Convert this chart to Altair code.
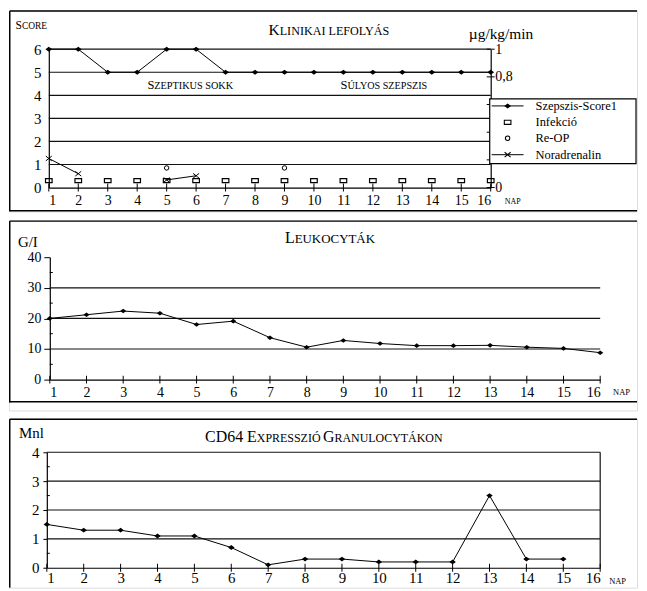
import altair as alt
import pandas as pd

FONT = "Liberation Serif"

# ---------------- data ----------------
days = [1, 2, 3, 4, 5, 6, 7, 8, 9, 10, 11, 12, 13, 14, 15, 16]
score = [6, 6, 5, 5, 6, 6, 5, 5, 5, 5, 5, 5, 5, 5, 5, 5]
infekcio = [0.3, 0.3, 0.3, 0.3, 0.3, 0.3, 0.3, 0.3, 0.3, 0.3, 0.3, 0.3, 0.3, 0.3, 0.3, 0.3]
reop_days = [5, 9]
reop = [0.85, 0.85]
nora_days = [1, 2, 5, 6]
nora = [0.21, 0.10, 0.055, 0.085]
nora_run = ["a", "a", "b", "b"]
score_grid = [1, 2, 3, 4, 5, 6]
score_ticks = [0, 1, 2, 3, 4, 5, 6]
nora_ticks = [0, 0.2, 0.4, 0.6, 0.8, 1]
legend_labels = ["Szepszis-Score1", "Infekció", "Re-OP", "Noradrenalin"]

leuko = [20, 21.2, 22.4, 21.7, 18, 19.1, 13.7, 10.6, 12.8, 11.8, 11.1, 11.1, 11.2, 10.6, 10.2, 8.8]
leuko_grid = [10, 20, 30]
leuko_ticks = [0, 10, 20, 30, 40]
leuko_minor = [5, 15, 25, 35]

cd64_days = [1, 2, 3, 4, 5, 6, 7, 8, 9, 10, 11, 12, 13, 14, 15]
cd64 = [1.5, 1.3, 1.3, 1.1, 1.1, 0.7, 0.1, 0.3, 0.3, 0.2, 0.2, 0.2, 2.5, 0.3, 0.3]
cd64_grid = [1, 2, 3, 4]
cd64_ticks = [0, 1, 2, 3, 4]
cd64_minor = [0.5, 1.5, 2.5, 3.5]

# ---------------- styles ----------------
W = 631
H1, H2, H3 = 202, 191, 170
F2 = 183  # framed part of panel 2
DIAMOND = "M0,-0.75L1,0L0,0.75L-1,0Z"
RECT = "M-1,-0.62L1,-0.62L1,0.62L-1,0.62Z"
XMARK = "M-1,-0.8L1,0.8M-1,0.8L1,-0.8"
GRID = "#111111"
ONE = alt.Data(values=[{}])


def txt(s, x, y, size, align="left", baseline="alphabetic"):
    return alt.Chart(ONE).mark_text(
        text=s, font=FONT, fontSize=size, align=align, baseline=baseline, color="black"
    ).encode(x=alt.value(x), y=alt.value(y))


def hline(y, x0, x1, w=1.5):
    return alt.Chart(ONE).mark_rule(color="black", strokeWidth=w).encode(
        x=alt.value(x0), x2=alt.value(x1), y=alt.value(y))


def vline(x, y0, y1, w=1.5):
    return alt.Chart(ONE).mark_rule(color="black", strokeWidth=w).encode(
        x=alt.value(x), y=alt.value(y0), y2=alt.value(y1))


def frame(h, bottom=True):
    parts = [hline(0.75, 0.75, W), vline(0.75, 0.75, h)]
    if bottom:
        parts.append(hline(h - 0.75, 0.75, W))
    return parts


def xaxis(offset, size, pad=6):
    return alt.Axis(values=days, format="d", ticks=False, grid=False, offset=offset,
                    title=None, labelFont=FONT, labelFontSize=size, labelColor="black",
                    labelPadding=pad, labelOverlap=False, labelBound=False,
                    domainColor="black", domainWidth=1.2)


# ================= Panel 1 =================
X1 = alt.Scale(domain=[1, 16], range=[40, 484], nice=False, zero=False)
XA1 = xaxis(-24, 14)
YL1 = alt.Scale(domain=[0, 6], range=[178, 39], nice=False, zero=False)
YR1 = alt.Scale(domain=[0, 1], range=[178, 39], nice=False, zero=False)
YA1 = alt.Axis(values=score_ticks, format="d", ticks=False, grid=False, offset=-40,
               title=None, labelFont=FONT, labelFontSize=15, labelColor="black",
               labelPadding=8, domainColor="black", domainWidth=1.2)
YAR1 = alt.Axis(orient="right", values=nora_ticks, ticks=False, grid=False, offset=-(W - 484),
                title=None, labelFont=FONT, labelFontSize=14, labelColor="black",
                labelPadding=4, domainColor="black", domainWidth=1.2,
                labelExpr="datum.value == 0.8 ? '0,8' : (datum.value == 1 ? '1' : (datum.value == 0 ? '   0' : ''))")


def x1(f):
    return alt.X(f, type="quantitative", scale=X1, axis=XA1)


df_score = pd.DataFrame({"day": days, "v": score})
df_inf = pd.DataFrame({"day": days, "v": infekcio})
df_reop = pd.DataFrame({"day": reop_days, "v": reop})
df_nora = pd.DataFrame({"day": nora_days, "v": nora, "run": nora_run})

grid1 = alt.Chart(pd.DataFrame({"g": score_grid})).mark_rule(color=GRID, strokeWidth=1.2).encode(
    x=alt.XDatum(1, type="quantitative", scale=X1, axis=XA1), x2=alt.X2Datum(16),
    y=alt.Y("g:Q", scale=YL1, axis=None))
xt1 = alt.Chart(pd.DataFrame({"day": days})).mark_tick(
    orient="vertical", size=8, thickness=1, color="black", opacity=1).encode(
    x=x1("day"), y=alt.YDatum(0, type="quantitative", scale=YL1, axis=None))
rt1 = alt.Chart(pd.DataFrame({"t": nora_ticks})).mark_tick(
    orient="horizontal", size=8, thickness=1, color="black", opacity=1).encode(
    x=alt.XDatum(16, type="quantitative", scale=X1, axis=XA1),
    y=alt.Y("t:Q", scale=YR1, axis=None))
score_line = alt.Chart(df_score).mark_line(color="black", strokeWidth=1).encode(
    x=x1("day"), y=alt.Y("v:Q", scale=YL1, axis=YA1))
score_pts = alt.Chart(df_score).mark_point(
    shape=DIAMOND, filled=True, color="black", size=46, opacity=1).encode(
    x=x1("day"), y=alt.Y("v:Q", scale=YL1, axis=None))
inf_pts = alt.Chart(df_inf).mark_point(
    shape=RECT, filled=False, color="black", size=44, strokeWidth=1.2, opacity=1).encode(
    x=x1("day"), y=alt.Y("v:Q", scale=YL1, axis=None))
reop_pts = alt.Chart(df_reop).mark_point(
    shape="circle", filled=False, color="black", size=20, strokeWidth=1, opacity=1).encode(
    x=x1("day"), y=alt.Y("v:Q", scale=YL1, axis=None))
nora_line = alt.Chart(df_nora).mark_line(color="black", strokeWidth=1).encode(
    x=x1("day"), y=alt.Y("v:Q", scale=YR1, axis=YAR1), detail="run:N")
nora_pts = alt.Chart(df_nora).mark_point(
    shape=XMARK, filled=False, color="black", size=36, strokeWidth=1, opacity=1).encode(
    x=x1("day"), y=alt.Y("v:Q", scale=YR1, axis=None))

# legend (decoration)
leg_box = alt.Chart(ONE).mark_rect(
    fill="white", stroke="black", strokeWidth=1.2).encode(
    x=alt.value(483), x2=alt.value(W - 1), y=alt.value(89), y2=alt.value(154))
leg_rows = [96, 112.5, 128.5, 145]
leg_layers = [leg_box]
for lab, yy in zip(legend_labels, leg_rows):
    leg_layers.append(txt(lab, 529, yy, 12.5, baseline="middle"))
for yy in (leg_rows[0], leg_rows[3]):
    leg_layers.append(hline(yy, 485, 517, 1))
for shp, fil, sz, yy in [(DIAMOND, True, 46, leg_rows[0]), (RECT, False, 44, leg_rows[1]),
                         ("circle", False, 20, leg_rows[2]), (XMARK, False, 36, leg_rows[3])]:
    leg_layers.append(alt.Chart(ONE).mark_point(
        shape=shp, filled=fil, color="black", size=sz, strokeWidth=1.1, opacity=1).encode(
        x=alt.value(501), y=alt.value(yy)))

texts1 = [
    txt("S", 13, 19, 11.5, "right"), txt("CORE", 13, 19, 9.5),
    txt("K", 272, 25, 15.5, "right"), txt("LINIKAI LEFOLYÁS", 272, 25, 12.2),
    txt("µg/kg/min", 462, 29, 15.5),
    txt("S", 146, 79, 12.5, "right"), txt("ZEPTIKUS SOKK", 146, 79, 10.3),
    txt("S", 340, 79, 12.5, "right"), txt("ÚLYOS SZEPSZIS", 340, 79, 10.2),
    txt("NAP", 498, 195, 8),
]

p1 = alt.layer(grid1, xt1, rt1, score_line, score_pts, inf_pts, reop_pts, nora_line, nora_pts,
               *leg_layers, *texts1, *frame(H1)).resolve_scale(y="independent").properties(
    width=W, height=H1)

# ================= Panel 2 =================
X2s = alt.Scale(domain=[1, 16], range=[41, 594], nice=False, zero=False)
XA2 = xaxis(160 - H2, 14)
Y2s = alt.Scale(domain=[0, 40], range=[160, 37], nice=False, zero=False)
YA2 = alt.Axis(values=leuko_ticks, format="d", ticks=True, tickSize=6, tickColor="black",
               grid=False, offset=-41, title=None, labelFont=FONT, labelFontSize=14,
               labelColor="black", labelPadding=3, domainColor="black", domainWidth=1.2)


def x2(f):
    return alt.X(f, type="quantitative", scale=X2s, axis=XA2)


df_leuko = pd.DataFrame({"day": days, "v": leuko})
grid2 = alt.Chart(pd.DataFrame({"g": leuko_grid})).mark_rule(color=GRID, strokeWidth=1.2).encode(
    x=alt.XDatum(1, type="quantitative", scale=X2s, axis=XA2), x2=alt.X2Datum(16),
    y=alt.Y("g:Q", scale=Y2s, axis=YA2))
minor2 = alt.Chart(pd.DataFrame({"m": leuko_minor})).mark_tick(
    orient="horizontal", size=3, thickness=1, color="black", xOffset=1.5, opacity=1).encode(
    x=alt.XDatum(1, type="quantitative", scale=X2s, axis=XA2),
    y=alt.Y("m:Q", scale=Y2s, axis=YA2))
xt2 = alt.Chart(pd.DataFrame({"day": days})).mark_tick(
    orient="vertical", size=8, thickness=1, color="black", opacity=1).encode(
    x=x2("day"), y=alt.YDatum(0, type="quantitative", scale=Y2s, axis=YA2))
leuko_line = alt.Chart(df_leuko).mark_line(color="black", strokeWidth=1).encode(
    x=x2("day"), y=alt.Y("v:Q", scale=Y2s, axis=YA2))
leuko_pts = alt.Chart(df_leuko).mark_point(
    shape=DIAMOND, filled=True, color="black", size=38, opacity=1).encode(
    x=x2("day"), y=alt.Y("v:Q", scale=Y2s, axis=YA2))
texts2 = [
    txt("G/I", 9, 27, 15),
    txt("L", 287, 23, 16, "right"), txt("EUKOCYTÁK", 287, 23, 13),
    txt("NAP", 607, 175, 8.5),
]
p2 = alt.layer(grid2, minor2, xt2, leuko_line, leuko_pts, *texts2, *frame(F2)).properties(
    width=W, height=H2)

# ================= Panel 3 =================
X3s = alt.Scale(domain=[1, 16], range=[38, 594], nice=False, zero=False)
XA3 = xaxis(-20, 15, 3)
Y3s = alt.Scale(domain=[0, 4], range=[150, 34], nice=False, zero=False)
YA3 = alt.Axis(values=cd64_ticks, format="d", ticks=True, tickSize=4, tickColor="black",
               grid=False, offset=-38, title=None, labelFont=FONT, labelFontSize=15,
               labelColor="black", labelPadding=4, domainColor="black", domainWidth=1.2)


def x3(f):
    return alt.X(f, type="quantitative", scale=X3s, axis=XA3)


df_cd = pd.DataFrame({"day": cd64_days, "v": cd64})
grid3 = alt.Chart(pd.DataFrame({"g": cd64_grid})).mark_rule(color=GRID, strokeWidth=1.2).encode(
    x=alt.XDatum(1, type="quantitative", scale=X3s, axis=XA3), x2=alt.X2Datum(16),
    y=alt.Y("g:Q", scale=Y3s, axis=YA3))
border3 = alt.Chart(ONE).mark_rule(color=GRID, strokeWidth=1.2).encode(
    x=alt.XDatum(16, type="quantitative", scale=X3s, axis=XA3),
    y=alt.YDatum(0, type="quantitative", scale=Y3s, axis=YA3), y2=alt.Y2Datum(4))
minor3 = alt.Chart(pd.DataFrame({"m": cd64_minor})).mark_tick(
    orient="horizontal", size=3, thickness=1, color="black", xOffset=1.5, opacity=1).encode(
    x=alt.XDatum(1, type="quantitative", scale=X3s, axis=XA3),
    y=alt.Y("m:Q", scale=Y3s, axis=YA3))
xt3 = alt.Chart(pd.DataFrame({"day": days})).mark_tick(
    orient="vertical", size=8, thickness=1, color="black", opacity=1).encode(
    x=x3("day"), y=alt.YDatum(0, type="quantitative", scale=Y3s, axis=YA3))
cd_line = alt.Chart(df_cd).mark_line(color="black", strokeWidth=1).encode(
    x=x3("day"), y=alt.Y("v:Q", scale=Y3s, axis=YA3))
cd_pts = alt.Chart(df_cd).mark_point(
    shape=DIAMOND, filled=True, color="black", size=42, opacity=1).encode(
    x=x3("day"), y=alt.Y("v:Q", scale=Y3s, axis=YA3))
texts3 = [
    txt("Mnl", 10, 20, 15),
    txt("CD64 E", 249, 24, 16, "right"), txt("XPRESSZIÓ", 249, 24, 12),
    txt("G", 327, 24, 16, "right"), txt("RANULOCYTÁKON", 327, 24, 12),
    txt("NAP", 603, 166, 8.5),
]
p3 = alt.layer(grid3, border3, minor3, xt3, cd_line, cd_pts, *texts3, *frame(H3, bottom=False)).properties(
    width=W, height=H3)

chart = alt.vconcat(p1, p2, p3, spacing=6, padding={"left": 0, "top": 0, "right": 0, "bottom": 0})
chart = chart.configure_view(stroke=None).configure(padding={"left": 0, "top": 0, "right": 0, "bottom": 0})

chart.save("out.html", embed_options={"renderer": "svg", "actions": False})
